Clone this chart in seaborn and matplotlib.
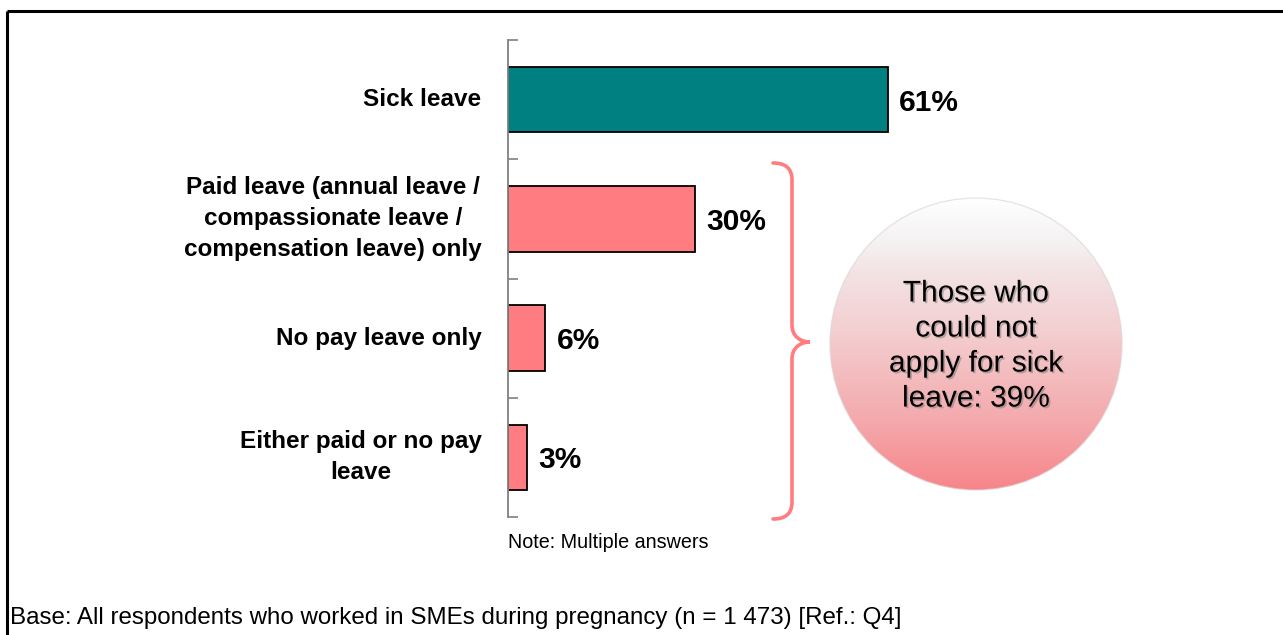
import numpy as np
import pandas as pd
import matplotlib
matplotlib.use("Agg")
import matplotlib.pyplot as plt
import seaborn as sns
from matplotlib.path import Path
from matplotlib.patches import PathPatch, Circle
from matplotlib.colors import LinearSegmentedColormap
import matplotlib.patheffects as pe

# ---- data ----
categories = [
    "Sick leave",
    "Paid leave (annual leave /\ncompassionate leave /\ncompensation leave) only",
    "No pay leave only",
    "Either paid or no pay\nleave",
]
values = [61, 30, 6, 3]
value_labels = ["61%", "30%", "6%", "3%"]
bar_colors = ["#008080", "#FF7C80", "#FF7C80", "#FF7C80"]
bubble_text = "Those who\ncould not\napply for sick\nleave: 39%"
note_text = "Note: Multiple answers"
base_text = "Base: All respondents who worked in SMEs during pregnancy (n = 1 473) [Ref.: Q4]"

sns.set_theme(style="white")
plt.rcParams["font.family"] = ["Liberation Sans", "DejaVu Sans"]

W, H = 1283, 635
fig = plt.figure(figsize=(W / 100, H / 100), dpi=100)
fig.patch.set_facecolor("white")

# main bar axes (pixel-measured placement)
ax_left, ax_top, ax_bottom, ax_right = 508, 40, 517, 1131
ax = fig.add_axes([ax_left / W, 1 - ax_bottom / H, (ax_right - ax_left) / W, (ax_bottom - ax_top) / H])
ax.set_facecolor("none")

df = pd.DataFrame({"category": categories, "value": values})
sns.barplot(data=df, x="value", y="category", hue="category", palette=bar_colors,
            legend=False, width=0.55, edgecolor="black", linewidth=1.3, ax=ax, orient="h",
            saturation=1)

ax.set_xlim(0, 100)
ax.set_ylim(3.5, -0.5)
ax.set_xlabel("")
ax.set_ylabel("")
ax.set_xticks([])
for s in ["top", "right", "bottom"]:
    ax.spines[s].set_visible(False)
ax.spines["left"].set_color("#808080")
ax.spines["left"].set_linewidth(1.3)

# boundary ticks (major), category labels (minor)
ax.set_yticks([-0.5, 0.5, 1.5, 2.5, 3.5])
ax.set_yticklabels([])
ax.tick_params(axis="y", which="major", direction="in", length=7, width=1.2, color="#808080", left=True)
ax.set_yticks(range(len(categories)), minor=True)
ax.set_yticklabels(categories, minor=True, fontsize=17.5, fontweight="bold", color="black",
                   multialignment="center", linespacing=1.45, va="center")
ax.tick_params(axis="y", which="minor", length=0, pad=19)

for i, cont in enumerate(ax.containers):
    txts = ax.bar_label(cont, labels=[value_labels[i]], padding=8, fontsize=21.5, fontweight="bold",
                        color="black")
    for t in txts:
        t.set_va("center_baseline")

# ---- overlay axes in pixel coordinates ----
ov = fig.add_axes([0, 0, 1, 1], zorder=5)
ov.set_facecolor("none")
ov.set_xlim(0, W)
ov.set_ylim(H, 0)
ov.axis("off")

# frame (top and left edges)
ov.plot([7, W], [11, 11], color="black", lw=2.2, solid_capstyle="butt")
ov.plot([7, 7], [11, H], color="black", lw=2.2, solid_capstyle="butt")

# brace
bc = "#FF7C80"
verts = [(773, 163), (785, 163), (792, 168), (792, 180),
         (792, 325),
         (792, 336), (800, 342), (810, 342),
         (800, 342), (792, 348), (792, 359),
         (792, 502),
         (792, 514), (785, 519), (773, 519)]
codes = [Path.MOVETO, Path.CURVE4, Path.CURVE4, Path.CURVE4,
         Path.LINETO,
         Path.CURVE4, Path.CURVE4, Path.CURVE4,
         Path.CURVE4, Path.CURVE4, Path.CURVE4,
         Path.LINETO,
         Path.CURVE4, Path.CURVE4, Path.CURVE4]
ov.add_patch(PathPatch(Path(verts, codes), facecolor="none", edgecolor=bc, lw=2.6, capstyle="round"))

# gradient bubble
cx, cy, r = 976, 344, 146
cmap = LinearSegmentedColormap.from_list(
    "bub", [(0.0, "#FFFFFF"), (0.14, "#F5F3F3"), (0.26, "#F3E2E3"),
            (0.45, "#F3CFD1"), (0.75, "#F4ABAE"), (1.0, "#F7858A")])
grad = np.linspace(0, 1, 256).reshape(-1, 1)
circ = Circle((cx, cy), r, transform=ov.transData, facecolor="none")
im = ov.imshow(grad, cmap=cmap, extent=[cx - r, cx + r, cy + r, cy - r], origin="upper",
               aspect="auto", interpolation="bilinear", zorder=2)
im.set_clip_path(circ)
ov.add_patch(Circle((cx, cy), r, facecolor="none", edgecolor="#DCD4D4", lw=1.0, alpha=0.6, zorder=3))
ov.set_xlim(0, W)
ov.set_ylim(H, 0)

ov.text(cx, cy + 2, bubble_text, ha="center", va="center", fontsize=21.5, color="black",
        linespacing=1.32, zorder=4,
        path_effects=[pe.SimplePatchShadow(offset=(1.2, -1.2), shadow_rgbFace="#777777", alpha=0.5),
                      pe.Normal()])

# notes
ov.text(508, 543, note_text, ha="left", va="center", fontsize=14.2, color="black")
ov.text(10, 618, base_text, ha="left", va="center", fontsize=17.4, color="black")

fig.savefig("out.png", dpi=100, facecolor="white")
